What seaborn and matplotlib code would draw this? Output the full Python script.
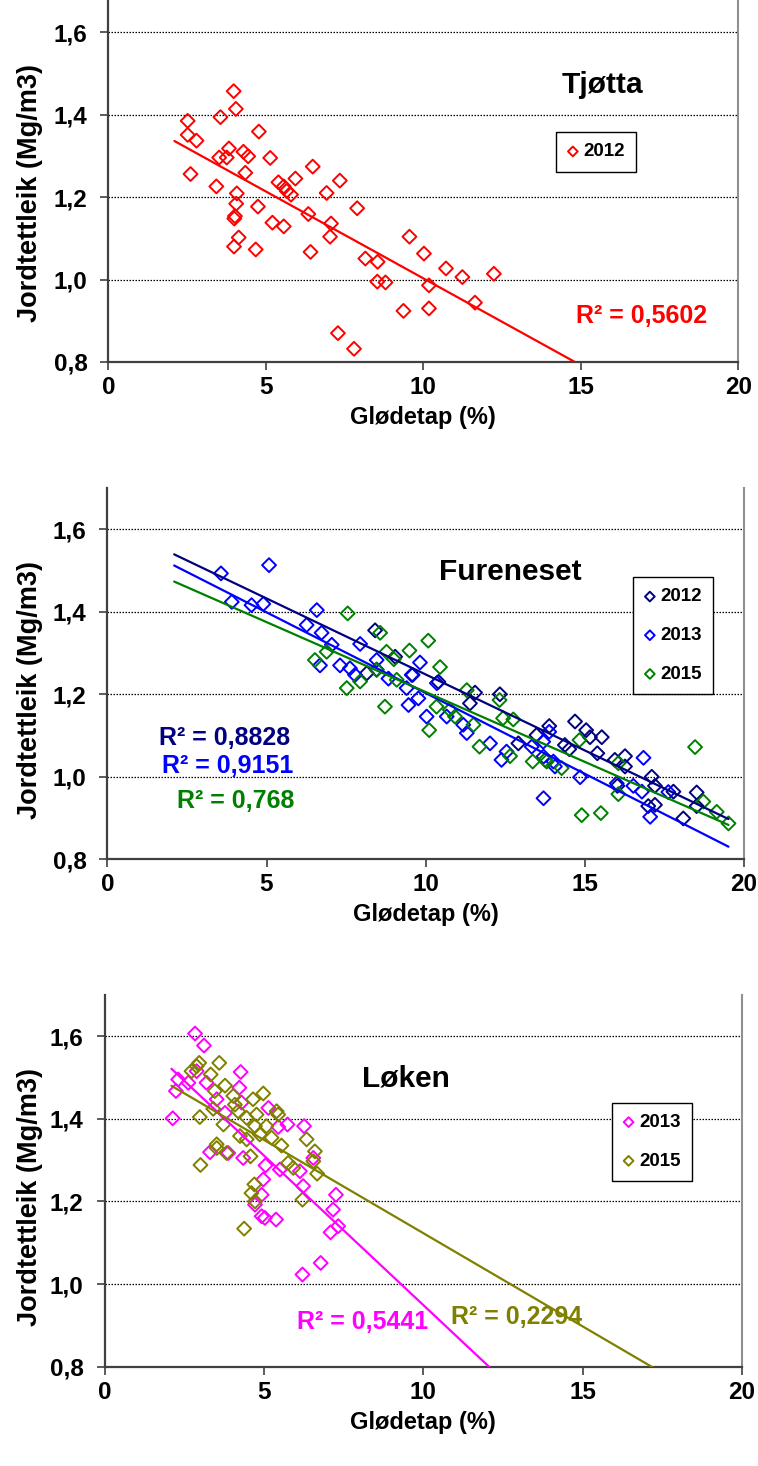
import numpy as np
import matplotlib
matplotlib.use("Agg")
import matplotlib.pyplot as plt
import seaborn as sns

# ---------------- data ----------------
tjotta_2012_x = [3.98, 4.05, 2.52, 3.56, 2.52, 2.80, 4.78, 3.83, 3.52, 3.76, 4.29, 4.44, 5.14, 2.61,
                 4.35, 6.49, 3.43, 5.40, 5.94, 5.57, 5.66, 5.80, 7.35, 6.93, 4.08, 4.06, 4.75, 4.02,
                 4.00, 5.21, 5.57, 6.35, 7.90, 7.07, 7.04, 4.14, 3.99, 4.68, 6.42, 8.16, 8.55, 9.56,
                 10.02, 10.72, 11.24, 12.24, 8.54, 8.80, 10.18, 11.64, 9.37, 10.18, 7.29, 7.80]
tjotta_2012_y = [1.457, 1.414, 1.385, 1.394, 1.351, 1.337, 1.359, 1.318, 1.296, 1.296, 1.310, 1.299,
                 1.295, 1.256, 1.259, 1.274, 1.226, 1.236, 1.245, 1.226, 1.215, 1.206, 1.240, 1.210,
                 1.209, 1.184, 1.177, 1.154, 1.148, 1.138, 1.129, 1.159, 1.173, 1.136, 1.104, 1.102,
                 1.080, 1.073, 1.067, 1.051, 1.043, 1.104, 1.063, 1.027, 1.006, 1.014, 0.995, 0.993,
                 0.986, 0.944, 0.924, 0.930, 0.870, 0.832]

fur_2012_x = [8.15, 8.41, 9.04, 9.59, 10.40, 11.39, 11.55, 12.33, 12.91, 13.48, 13.88, 14.37, 14.51,
              14.69, 15.04, 15.16, 15.39, 15.53, 15.94, 16.02, 16.26, 16.26, 16.99, 17.10, 17.20,
              17.20, 17.78, 18.09, 18.51, 18.51]
fur_2012_y = [1.251, 1.355, 1.291, 1.247, 1.230, 1.178, 1.204, 1.200, 1.081, 1.101, 1.123, 1.077, 1.067,
              1.134, 1.113, 1.096, 1.057, 1.096, 1.041, 0.978, 1.050, 1.025, 0.929, 1.000, 0.978,
              0.932, 0.964, 0.899, 0.962, 0.929]

fur_2013_x = [3.57, 3.91, 4.53, 4.90, 5.08, 6.26, 6.58, 6.68, 6.73, 7.05, 7.31, 7.62, 7.78, 7.94, 8.46,
              8.46, 8.83, 9.40, 9.46, 9.56, 9.77, 9.82, 10.03, 10.35, 10.66, 11.18, 11.29, 12.02, 12.38,
              12.54, 13.33, 13.69, 13.70, 13.70, 13.88, 14.01, 14.06, 14.85, 16.00, 16.52, 16.79, 16.84,
              17.05, 17.62]
fur_2013_y = [1.493, 1.424, 1.416, 1.419, 1.513, 1.368, 1.404, 1.270, 1.349, 1.320, 1.270, 1.263, 1.247,
              1.322, 1.283, 1.260, 1.238, 1.215, 1.174, 1.247, 1.190, 1.277, 1.146, 1.227, 1.146, 1.126,
              1.106, 1.081, 1.041, 1.061, 1.073, 1.085, 1.049, 0.948, 1.109, 1.037, 1.025, 0.999, 0.984,
              0.978, 0.964, 1.046, 0.903, 0.963]

fur_2015_x = [6.52, 6.89, 7.52, 7.55, 7.94, 8.46, 8.57, 8.72, 8.77, 9.00, 9.09, 9.49, 10.08, 10.11,
              10.34, 10.45, 10.76, 10.92, 11.29, 11.50, 11.69, 12.32, 12.43, 12.65, 12.75, 13.36, 13.75,
              13.80, 14.27, 14.83, 14.90, 15.50, 16.05, 16.05, 18.46, 18.72, 19.14, 19.51]
fur_2015_y = [1.283, 1.303, 1.215, 1.396, 1.231, 1.259, 1.349, 1.170, 1.303, 1.285, 1.235, 1.306, 1.330,
              1.113, 1.170, 1.266, 1.162, 1.146, 1.210, 1.126, 1.073, 1.186, 1.142, 1.050, 1.139, 1.037,
              1.041, 1.037, 1.021, 1.089, 0.907, 0.912, 0.958, 1.033, 1.072, 0.940, 0.915, 0.887]

loken_2013_x = [2.14, 2.24, 2.31, 2.63, 2.84, 2.89, 3.12, 3.20, 3.31, 3.52, 3.78, 3.88, 4.23, 4.27,
                4.30, 4.35, 4.72, 4.93, 4.93, 4.98, 5.03, 5.05, 5.14, 5.38, 5.45, 5.50, 5.74, 6.13,
                6.21, 6.23, 6.26, 6.55, 6.78, 7.09, 7.17, 7.26, 7.33]
loken_2013_y = [1.401, 1.467, 1.495, 1.487, 1.606, 1.515, 1.577, 1.487, 1.319, 1.447, 1.414, 1.317,
                1.475, 1.513, 1.439, 1.305, 1.192, 1.216, 1.164, 1.253, 1.160, 1.287, 1.426, 1.156,
                1.380, 1.277, 1.386, 1.273, 1.023, 1.237, 1.382, 1.305, 1.051, 1.125, 1.180, 1.216,
                1.140]

loken_2015_x = [2.73, 2.89, 2.97, 2.99, 3.01, 3.33, 3.41, 3.46, 3.52, 3.52, 3.60, 3.73, 3.78, 3.83,
                4.04, 4.09, 4.19, 4.25, 4.38, 4.46, 4.46, 4.58, 4.61, 4.66, 4.70, 4.72, 4.72, 4.77,
                4.87, 4.98, 5.08, 5.24, 5.40, 5.45, 5.55, 5.76, 5.92, 6.21, 6.34, 6.55, 6.60, 6.67]
loken_2015_y = [1.515, 1.527, 1.535, 1.404, 1.288, 1.507, 1.424, 1.467, 1.338, 1.329, 1.535, 1.386,
                1.480, 1.317, 1.455, 1.434, 1.418, 1.358, 1.134, 1.402, 1.350, 1.309, 1.220, 1.447,
                1.241, 1.382, 1.200, 1.410, 1.362, 1.461, 1.382, 1.354, 1.418, 1.410, 1.335, 1.293,
                1.281, 1.204, 1.350, 1.297, 1.321, 1.267]

x_ticks = [0, 5, 10, 15, 20]
y_ticks = [0.8, 1.0, 1.2, 1.4, 1.6]
y_tick_labels = ["0,8", "1,0", "1,2", "1,4", "1,6"]
x_label = "Glødetap (%)"
y_label = "Jordtettleik (Mg/m3)"

# ---------------- style ----------------
sns.set_theme(style="white")
plt.rcParams["font.family"] = ["Liberation Sans", "DejaVu Sans"]
plt.rcParams["font.weight"] = "bold"
plt.rcParams["text.color"] = "black"
plt.rcParams["axes.labelcolor"] = "black"
plt.rcParams["xtick.color"] = "black"
plt.rcParams["ytick.color"] = "black"

W, H = 758, 1466
fig = plt.figure(figsize=(W / 100, H / 100), dpi=100)

panels = [
    dict(rect=(108.3, -9, 738.3, 362), title="Tjøtta", title_xy=(15.7, 1.471),
         series=[("2012", tjotta_2012_x, tjotta_2012_y, "#FF0000", "R² = 0,5602", (16.94, 0.912), "center")],
         line_end="axis", legend_anchor=(0.7106, 0.620)),
    dict(rect=(107.3, 488, 744.1, 859.3), title="Fureneset", title_xy=(12.65, 1.496),
         series=[("2012", fur_2012_x, fur_2012_y, "#000080", "R² = 0,8828", (1.62, 1.095), "left"),
                 ("2013", fur_2013_x, fur_2013_y, "#0000FF", "R² = 0,9151", (1.71, 1.025), "left"),
                 ("2015", fur_2015_x, fur_2015_y, "#008000", "R² = 0,768", (2.19, 0.942), "left")],
         line_end="data", legend_anchor=(0.8255, 0.760)),
    dict(rect=(104.5, 994.7, 742.1, 1366.7), title="Løken", title_xy=(9.45, 1.498),
         series=[("2013", loken_2013_x, loken_2013_y, "#FF00FF", "R² = 0,5441", (6.04, 0.907), "left"),
                 ("2015", loken_2015_x, loken_2015_y, "#808000", "R² = 0,2294", (10.86, 0.921), "left")],
         line_end="axis", legend_anchor=(0.7955, 0.7097)),
]

for p in panels:
    l, t, r, b = p["rect"]
    ax = fig.add_axes([l / W, 1 - b / H, (r - l) / W, (b - t) / H])
    ax.set_xlim(0, 20)
    ax.set_ylim(0.8, 1.7)
    height_px = b - t
    width_px = r - l

    panel_xmax = max(np.max(s[1]) for s in p["series"])
    for name, xs, ys, col, r2txt, r2xy, r2ha in p["series"]:
        xs = np.asarray(xs)
        ys = np.asarray(ys)
        sns.scatterplot(x=xs, y=ys, ax=ax, marker="D", s=50, facecolor="none",
                        edgecolor=col, linewidth=1.4, label=name, legend=False, zorder=3)
        slope, intercept = np.polyfit(xs, ys, 1)
        x_end = 20 if p["line_end"] == "axis" else panel_xmax
        xl = np.array([2.1, x_end])
        sns.lineplot(x=xl, y=intercept + slope * xl, ax=ax, color=col, lw=1.6, zorder=4)
        ax.text(r2xy[0], r2xy[1], r2txt, color=col, fontsize=18, fontweight="bold",
                ha=r2ha, va="center", zorder=5)

    ax.text(p["title_xy"][0], p["title_xy"][1], p["title"], fontsize=21.5, fontweight="bold",
            ha="center", va="center", color="black")

    ax.set_xticks(x_ticks)
    ax.set_xticklabels([str(v) for v in x_ticks])
    ax.set_yticks(y_ticks)
    ax.set_yticklabels(y_tick_labels)
    ax.tick_params(axis="both", which="major", bottom=True, left=True, direction="out",
                   length=6, width=1.2, color="#404040", labelcolor="black", labelsize=17.5)
    ax.tick_params(axis="y", pad=9)
    ax.tick_params(axis="x", pad=4)
    ax.yaxis.grid(True, linestyle=(0, (1.2, 1.2)), color="black", lw=0.9)
    ax.xaxis.grid(False)
    ax.set_axisbelow(True)

    for s in ["left", "bottom"]:
        ax.spines[s].set_color("#404040")
        ax.spines[s].set_linewidth(1.6)
    ax.spines["right"].set_color("#909090")
    ax.spines["right"].set_linewidth(1.5)
    ax.spines["top"].set_visible(False)

    ax.set_xlabel(x_label, fontsize=17, fontweight="bold")
    ax.xaxis.set_label_coords(0.5, -44 / height_px)
    ax.set_ylabel(y_label, fontsize=19.5, fontweight="bold")
    ax.yaxis.set_label_coords((43 - l) / width_px, 0.455)

    leg = ax.legend(loc="upper left", bbox_to_anchor=p["legend_anchor"], frameon=True,
                    fancybox=False, edgecolor="black", framealpha=1, borderaxespad=0,
                    borderpad=0.6, handlelength=0.6, handletextpad=0.25, labelspacing=1.15,
                    markerscale=0.7, prop={"weight": "bold", "size": 13.5})
    leg.get_frame().set_linewidth(1.0)
    leg.set_zorder(6)

fig.savefig("out.png", dpi=100, facecolor="white")
